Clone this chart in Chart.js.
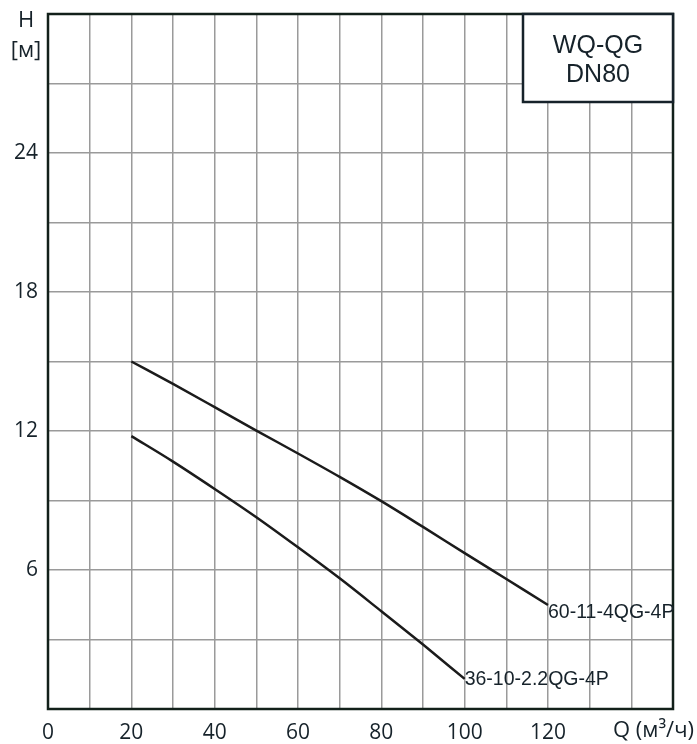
<!DOCTYPE html>
<html>
<head>
<meta charset="utf-8">
<script src="https://cdn.jsdelivr.net/npm/chart.js@4/dist/chart.umd.min.js"></script>
<style>
  html, body { margin: 0; padding: 0; background: #fff; }
  #wrap { width: 697px; height: 744px; }
</style>
</head>
<body>
<div id="wrap"><canvas id="c" width="697" height="744"></canvas></div>
<script>
// Pump performance curves, WQ-QG DN80
const modelTitle = ['WQ-QG', 'DN80'];
const pumpNames = ['60-11-4QG-4P', '36-10-2.2QG-4P'];

const flowA = [20, 30, 40, 50, 60, 70, 80, 90, 100, 110, 120];
const headA = [15.0, 14.03, 13.03, 12.02, 11.03, 10.02, 8.97, 7.86, 6.73, 5.61, 4.49];

const flowB = [20, 30, 40, 50, 60, 70, 80, 90, 100];
const headB = [11.78, 10.68, 9.5, 8.28, 6.98, 5.64, 4.22, 2.78, 1.3];

const xTickLabels = [0, 20, 40, 60, 80, 100, 120];
const yTickLabels = [6, 12, 18, 24];
const xAxisName = 'Q (м³/ч)';
const yAxisName = ['H', '[м]'];

const INK = '#16222a';
const FRAME = '#12201a';
const nameOffsetY = [8, 1];

const toPoints = (xs, ys) => xs.map((x, i) => ({ x: x, y: ys[i] }));

const decorations = {
  id: 'decorations',
  afterDraw(chart) {
    const ctx = chart.ctx;
    const a = chart.chartArea;
    ctx.save();

    // frame around the plot area
    ctx.strokeStyle = FRAME;
    ctx.lineWidth = 2.5;
    ctx.strokeRect(a.left, a.top, a.right - a.left, a.bottom - a.top);

    // model box in the top right corner
    const bw = 150, bh = 88;
    const bx = a.right - bw, by = a.top;
    ctx.fillStyle = '#fff';
    ctx.fillRect(bx, by, bw, bh);
    ctx.strokeStyle = INK;
    ctx.lineWidth = 2.5;
    ctx.strokeRect(bx, by, bw, bh);
    ctx.fillStyle = INK;
    ctx.font = '25px "Liberation Sans", Arial, sans-serif';
    ctx.textAlign = 'center';
    ctx.textBaseline = 'middle';
    ctx.fillText(modelTitle[0], bx + bw / 2, by + 32);
    ctx.fillText(modelTitle[1], bx + bw / 2, by + 61);

    // curve names at the end of each line
    ctx.font = '19.5px "Liberation Sans", Arial, sans-serif';
    ctx.textAlign = 'left';
    ctx.textBaseline = 'middle';
    chart.data.datasets.forEach((ds, i) => {
      const meta = chart.getDatasetMeta(i);
      const last = meta.data[meta.data.length - 1];
      ctx.fillText(pumpNames[i], last.x, last.y + nameOffsetY[i]);
    });

    // axis names
    ctx.font = '22px "Open Sans", "Liberation Sans", sans-serif';
    ctx.textAlign = 'right';
    ctx.fillText(xAxisName, 694, 731);
    ctx.textAlign = 'center';
    ctx.fillText(yAxisName[0], 26, 21);
    ctx.fillText(yAxisName[1], 26, 51);
    ctx.restore();
  }
};

new Chart(document.getElementById('c'), {
  type: 'line',
  data: {
    datasets: [
      { label: pumpNames[0], data: toPoints(flowA, headA) },
      { label: pumpNames[1], data: toPoints(flowB, headB) }
    ]
  },
  options: {
    responsive: false,
    animation: false,
    layout: { padding: { top: 14, right: 24, left: 0, bottom: 0 } },
    elements: {
      line: { borderColor: '#1b1b1b', borderWidth: 2.5, cubicInterpolationMode: 'monotone', fill: false },
      point: { radius: 0 }
    },
    plugins: { legend: { display: false }, tooltip: { enabled: false } },
    scales: {
      x: {
        type: 'linear',
        min: 0, max: 150,
        afterFit(s) { s.height = 35; s.paddingLeft = 0; s.paddingRight = 0; },
        afterBuildTicks(s) {
          const t = [];
          for (let v = 0; v <= 150; v += 10) t.push({ value: v });
          s.ticks = t;
        },
        ticks: {
          autoSkip: false,
          maxRotation: 0,
          padding: 11,
          color: INK,
          font: { family: '"Open Sans", "Liberation Sans", sans-serif', size: 21 },
          callback: (v) => xTickLabels.includes(v) ? String(v) : ''
        },
        grid: { color: '#9a9a9a', lineWidth: 1.5, drawTicks: false },
        border: { display: false }
      },
      y: {
        type: 'linear',
        min: 0, max: 30,
        afterFit(s) { s.width = 48; s.paddingTop = 0; s.paddingBottom = 0; },
        afterBuildTicks(s) {
          const t = [];
          for (let v = 0; v <= 30; v += 3) t.push({ value: v });
          s.ticks = t;
        },
        ticks: {
          autoSkip: false,
          padding: 10,
          color: INK,
          font: { family: '"Open Sans", "Liberation Sans", sans-serif', size: 21 },
          callback: (v) => yTickLabels.includes(v) ? String(v) : ''
        },
        grid: { color: '#9a9a9a', lineWidth: 1.5, drawTicks: false },
        border: { display: false }
      }
    }
  },
  plugins: [decorations]
});
</script>
</body>
</html>
